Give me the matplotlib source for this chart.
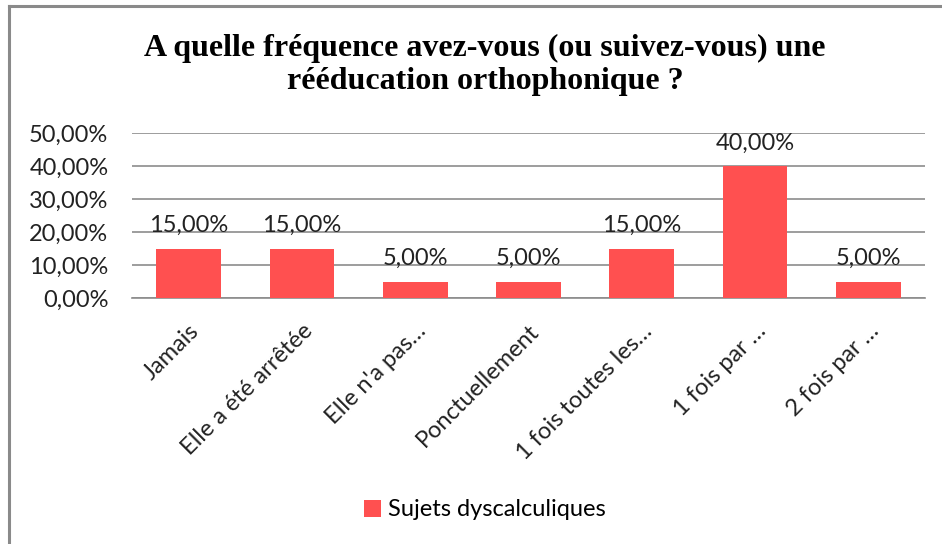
import matplotlib
matplotlib.use("Agg")
import matplotlib.pyplot as plt
from matplotlib.lines import Line2D
from matplotlib.patches import Patch

# Chart data
categories = ["Jamais", "Elle a été arrêtée", "Elle n'a pas…", "Ponctuellement",
              "1 fois toutes les…", "1 fois par …", "2 fois par …"]
values = [0.15, 0.15, 0.05, 0.05, 0.15, 0.40, 0.05]
yticks = [0.0, 0.1, 0.2, 0.3, 0.4, 0.5]
series_name = "Sujets dyscalculiques"
title = "A quelle fréquence avez-vous (ou suivez-vous) une\nrééducation orthophonique ?"

bar_color = "#FF5050"
grid_color = "#8c8c8c"
sans = ["Lato", "DejaVu Sans"]
fs = 17


def pct(v):
    return f"{v * 100:.2f}%".replace(".", ",")


fig = plt.figure(figsize=(9.42, 5.44), dpi=100)
ax = fig.add_axes([132 / 942, 1 - 298 / 544, (925 - 132) / 942, (298 - 133) / 544])

x = range(len(categories))
bars = ax.bar(x, values, width=0.57, color=bar_color, zorder=3)

ax.set_xlim(-0.5, len(categories) - 0.5)
ax.set_ylim(0, 0.5)
ax.set_yticks(yticks)
ax.set_yticklabels([pct(v) for v in yticks], family=sans, fontsize=fs, color="#222222")
ax.yaxis.grid(True, color=grid_color, linewidth=1.2, zorder=0)
ax.tick_params(axis="y", length=0, pad=17)

ax.set_xticks(list(x))
ax.set_xticklabels(categories, rotation=45, ha="right", rotation_mode="anchor",
                   family=sans, fontsize=fs, color="#222222")
ax.tick_params(axis="x", length=0, pad=16)

for s in ["top", "right", "left"]:
    ax.spines[s].set_visible(False)
ax.spines["bottom"].set_color(grid_color)
ax.spines["bottom"].set_linewidth(1.2)

# value labels above bars
for b, v in zip(bars, values):
    ax.annotate(pct(v), (b.get_x() + b.get_width() / 2, v), xytext=(0, 9),
                textcoords="offset points", ha="center", va="bottom",
                family=sans, fontsize=fs, color="#222222")

fig.text(485 / 942, 1 - 65 / 544, title, ha="center", va="center", family="Liberation Serif",
         fontweight="bold", fontsize=23, linespacing=1.2)

fig.legend(handles=[Patch(facecolor=bar_color, label=series_name)],
           loc="center", bbox_to_anchor=(485 / 942, 1 - 510 / 544), frameon=False,
           prop={"family": sans, "size": fs}, handlelength=0.7, handleheight=0.7,
           handletextpad=0.3)

# chart frame (top and left edges)
fig.add_artist(Line2D([9 / 942, 9 / 942], [0, 1 - 6 / 544], color="#8a8a8a", linewidth=2.2,
                      transform=fig.transFigure))
fig.add_artist(Line2D([9 / 942, 1], [1 - 6 / 544, 1 - 6 / 544], color="#8a8a8a", linewidth=2.2,
                      transform=fig.transFigure))

fig.savefig("out.png", dpi=100, facecolor="white")
